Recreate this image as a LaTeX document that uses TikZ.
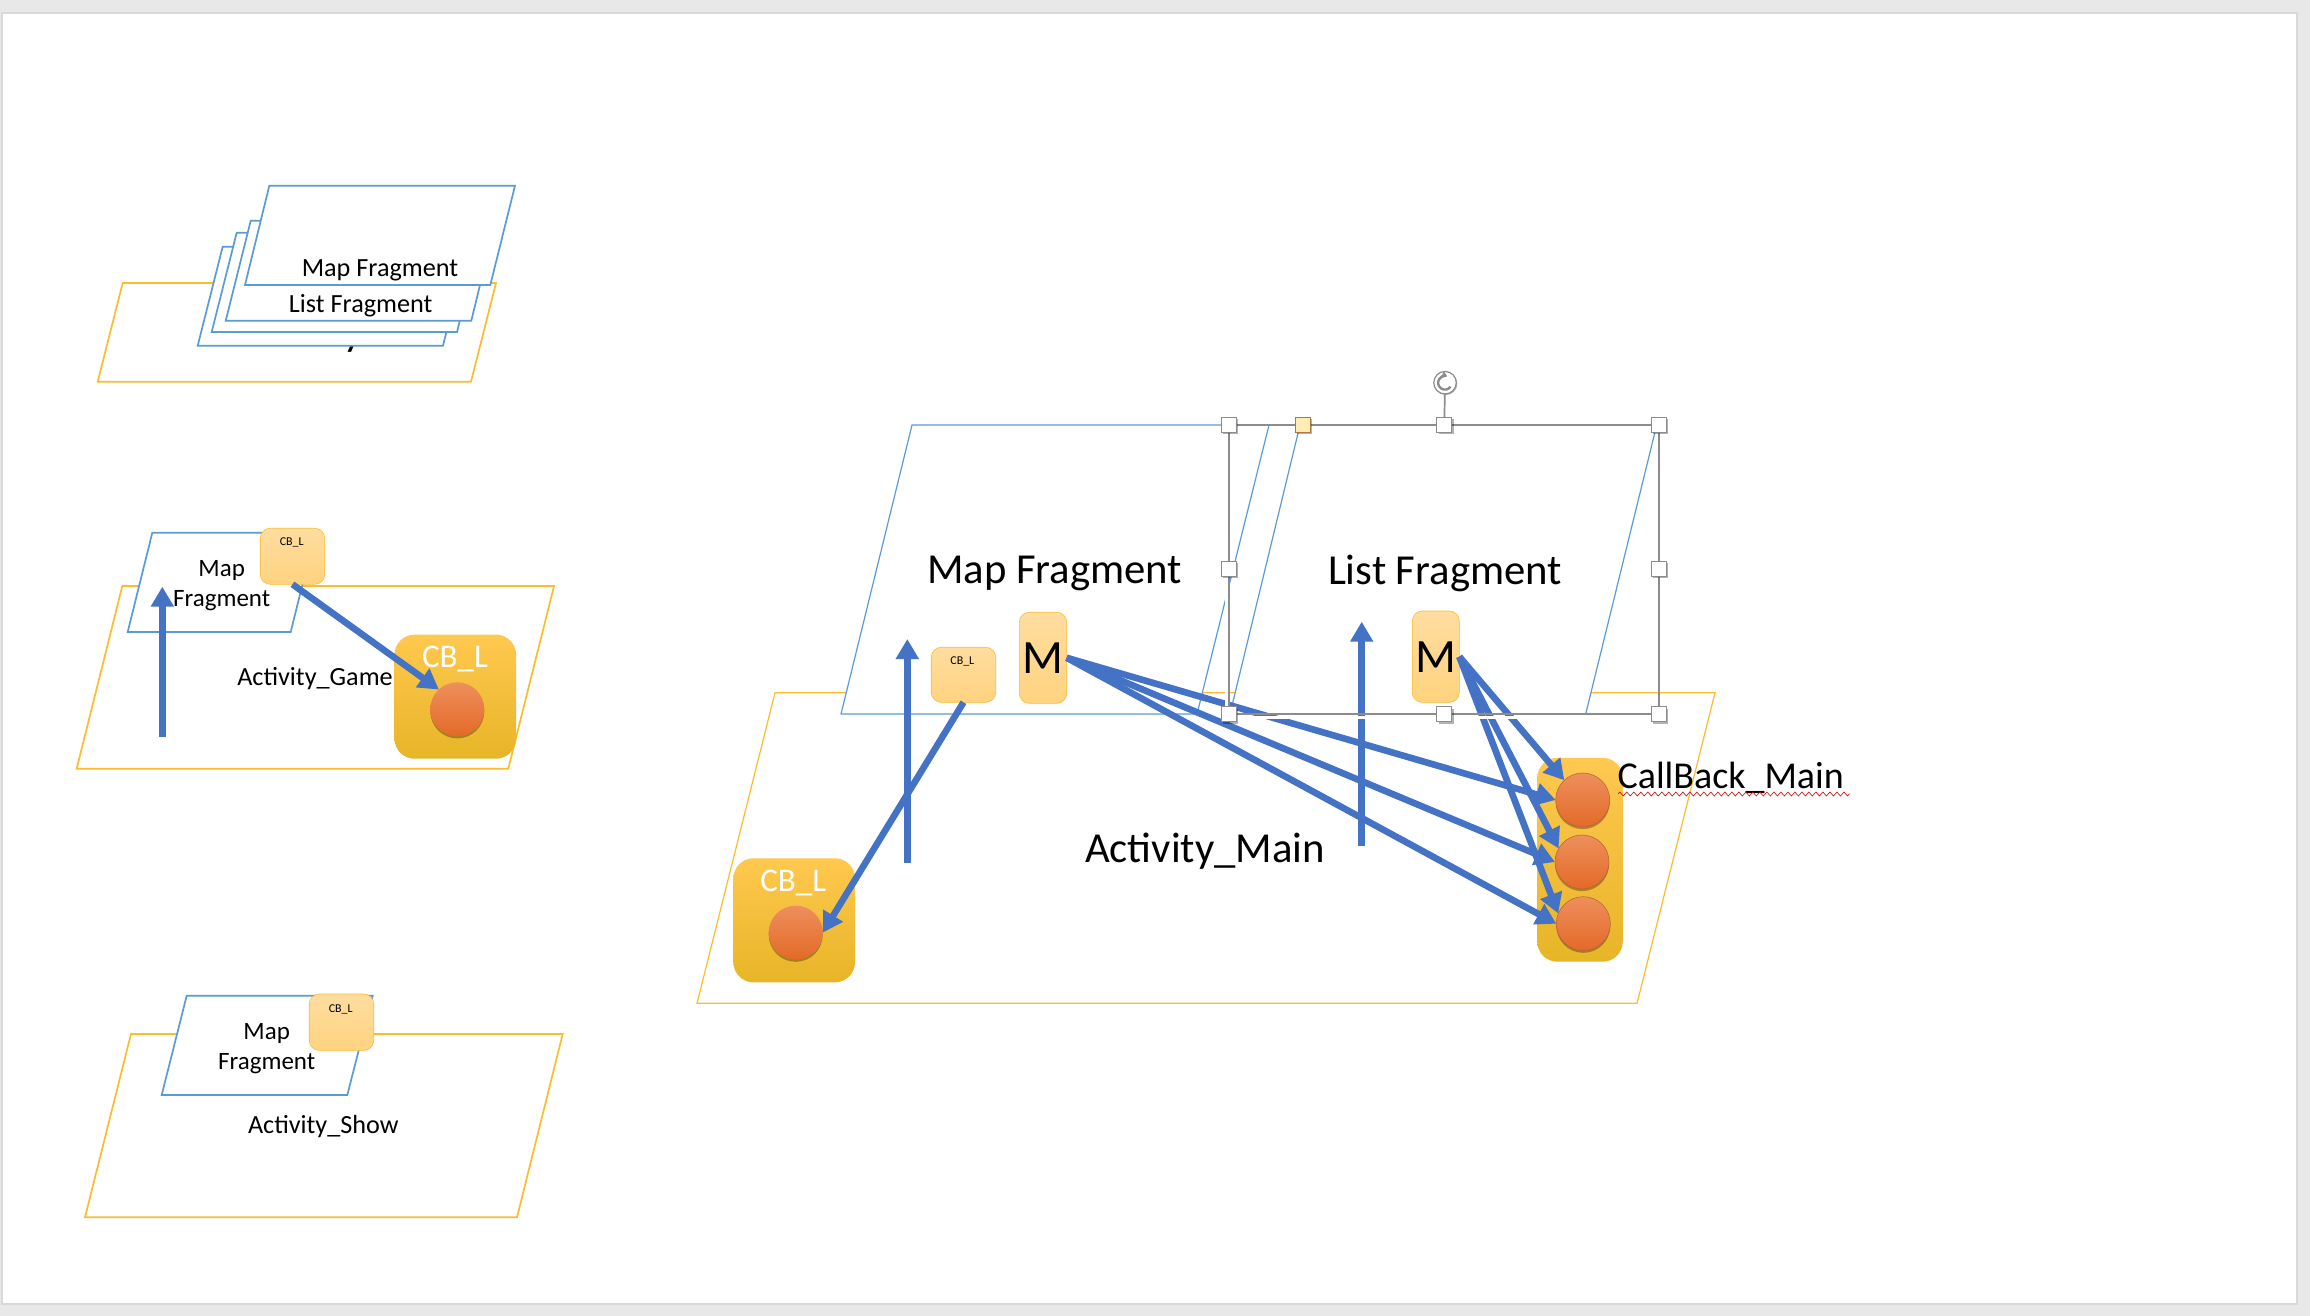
\documentclass[tikz,border=0pt]{standalone}
\usepackage{fontspec}
\setmainfont{Carlito}
\usepackage{tikz}
\usetikzlibrary{arrows.meta, positioning, shadows, decorations.pathmorphing}
\definecolor{oro}{HTML}{FBBC30}
\definecolor{azul}{HTML}{5B9BD5}
\definecolor{flechaazul}{HTML}{4472C4}
\definecolor{marcogris}{HTML}{8C8C8C}
\definecolor{cajaA}{HTML}{FFC84F}
\definecolor{cajaB}{HTML}{FFC42E}
\definecolor{cajaC}{HTML}{E7B527}
\definecolor{peqA}{HTML}{FFDDA0}
\definecolor{peqB}{HTML}{FFD37F}
\definecolor{bolaA}{HTML}{EE8F5C}
\definecolor{bolaB}{HTML}{F47B36}
\definecolor{bolaC}{HTML}{E36A28}
\definecolor{bolaborde}{HTML}{B5603A}
\definecolor{asaforma}{HTML}{FFEDB8}
\definecolor{asaborde}{HTML}{A87A45}
\tikzset{
    plano_activity/.style={draw=oro, line width=0.017cm, line join=miter},
    plano_fragment/.style={draw=azul, fill=white, line width=0.017cm},
    box_cb/.style={rectangle, rounded corners=0.2cm, draw=none, top color=cajaA, middle color=cajaB, bottom color=cajaC, minimum width=1.215cm, minimum height=1.24cm, inner sep=0pt, outer sep=0pt},
    box_peq/.style={rectangle, rounded corners=0.1cm, draw=oro, line width=0.006cm, top color=peqA, bottom color=peqB, inner sep=0pt, outer sep=0pt},
    bola/.style={circle, top color=bolaA, middle color=bolaB, bottom color=bolaC, minimum size=0.54cm, inner sep=0pt, outer sep=0pt, drop shadow={shadow xshift=0pt, shadow yshift=-0.6pt, opacity=0.3, fill=black}},
    flecha/.style={-{Triangle[width=0.22cm, length=0.2cm]}, line width=0.066cm, draw=flechaazul},
    asa/.style={rectangle, draw=marcogris, fill=white, line width=0.008cm, minimum size=0.15cm, inner sep=0pt, outer sep=0pt, drop shadow={shadow xshift=0.5pt, shadow yshift=-0.5pt, opacity=0.3, fill=black}},
    marco/.style={draw=marcogris, line width=0.017cm},
    txt_grande/.style={font=\fontsize{12.15}{15}\selectfont, inner sep=0pt},
    txt_back/.style={font=\fontsize{10.8}{13}\selectfont, inner sep=0pt},
    txt_medio/.style={font=\fontsize{7.45}{8.4}\selectfont, inner sep=0pt, align=center},
    txt_doble/.style={font=\fontsize{7.1}{8.4}\selectfont, inner sep=0pt, align=center},
    txt_mini/.style={font=\fontsize{3.4}{4}\selectfont, inner sep=0pt},
    txt_cb/.style={font=\fontsize{9.4}{11}\selectfont, text=white, inner sep=0pt},
    txt_m/.style={font=\fontsize{13.6}{15}\selectfont, inner sep=0pt}
}
\begin{document}
\begin{tikzpicture}[x=0.01cm, y=-0.01cm]
    \useasboundingbox (0,0) rectangle (2310,1316);
    % Fondo de la diapositiva
    \fill[gray!18] (0,0) rectangle (2310,1316);
    \draw[fill=white, draw=gray!30, line width=0.012cm] (2,13) rectangle (2297,1304);

    % 1. Pila de fragmentos (arriba a la izquierda)
    \draw[plano_activity] (122.7,283) -- (496,283) -- (471,381.7) -- (97.7,381.7) -- cycle;
    \node[txt_grande] (act_pila) at (298,334) {Activity};
    \draw[plano_fragment] (222.7,246.7) -- (467.7,246.7) -- (443,345.7) -- (197.7,345.7) -- cycle;
    \draw[plano_fragment] (236.7,232.7) -- (481.7,232.7) -- (457,332) -- (211.7,332) -- cycle;
    \draw[plano_fragment] (250.7,220.7) -- (495.7,220.7) -- (471.3,320.7) -- (225.7,320.7) -- cycle;
    \node[txt_medio] (list_pila) at (360.7,305.5) {List Fragment};
    \draw[plano_fragment] (269.3,185.7) -- (515,185.7) -- (490.3,285) -- (245,285) -- cycle;
    \node[txt_medio] (map_pila) at (380,270) {Map Fragment};

    % 2. Activity_Game
    \draw[plano_activity] (122.3,586) -- (554,586) -- (508.3,768.7) -- (76.7,768.7) -- cycle;
    \draw[plano_fragment] (152.3,532.7) -- (315.3,532.7) -- (290.7,632) -- (127.7,632) -- cycle;
    \node[txt_doble] (map_game) at (221.7,585.5) {Map\\Fragment};
    \node[box_peq, minimum width=0.644cm, minimum height=0.56cm] (cb_game) at (292.5,556.3) {};
    \node[txt_mini] (cb_game_txt) at (291.7,542) {CB\_L};
    \node[txt_medio] (act_game) at (315,679) {Activity\_Game};
    \node[box_cb] (caja_game) at (455.3,696.7) {};
    \node[txt_cb] (caja_game_txt) at (455,658.5) {CB\_L};
    \node[bola] (bola_game) at (457.3,709.3) {};

    % 3. Activity_Show
    \draw[plano_activity] (131,1034) -- (562.7,1034) -- (517,1217.3) -- (85,1217.3) -- cycle;
    \draw[plano_fragment] (186.7,995.7) -- (372.7,995.7) -- (347.3,1095) -- (161.7,1095) -- cycle;
    \node[txt_doble] (map_show) at (266.7,1048.5) {Map\\Fragment};
    \node[box_peq, minimum width=0.644cm, minimum height=0.563cm] (cb_show) at (341.5,1022.2) {};
    \node[txt_mini] (cb_show_txt) at (340.7,1009.3) {CB\_L};
    \node[txt_medio] (act_show) at (323.3,1127) {Activity\_Show};

    % 4. Activity_Main
    \draw[plano_activity, line width=0.012cm] (775,692.7) -- (1715,692.7) -- (1637,1003.3) -- (697,1003.3) -- cycle;
    \draw[plano_fragment, line width=0.012cm] (912,425) -- (1269,425) -- (1197,714) -- (841,714) -- cycle;
    \draw[plano_fragment, line width=0.012cm] (1300,425) -- (1656.7,425) -- (1585.7,714) -- (1230,714) -- cycle;
    \node[txt_grande] (map_main) at (1054.6,573) {Map Fragment};
    \node[txt_grande] (list_main) at (1445,573) {List Fragment};
    \node[txt_grande] (act_main) at (1205,851.5) {Activity\_Main};

    \node[box_peq, minimum width=0.644cm, minimum height=0.55cm] (cb_main) at (963.5,674.8) {};
    \node[txt_mini] (cb_main_txt) at (962.3,661.3) {CB\_L};
    \node[box_peq, minimum width=0.474cm, minimum height=0.91cm] (m_map) at (1043,657.8) {};
    \node[txt_m] (m_map_txt) at (1042.7,658.3) {M};
    \node[box_peq, minimum width=0.47cm, minimum height=0.913cm] (m_list) at (1435.8,656.7) {};
    \node[txt_m] (m_list_txt) at (1436,656.7) {M};

    \node[box_cb] (caja_main) at (794.2,920.3) {};
    \node[txt_cb] (caja_main_txt) at (793.3,883) {CB\_L};
    \node[bola] (bola_main) at (795.7,932.7) {};

    \node[box_cb, minimum width=0.854cm, minimum height=2.037cm] (caja_back) at (1580,859.8) {};
    \node[bola, draw=bolaborde, line width=0.005cm] (bola_a) at (1582.7,800) {};
    \node[bola, draw=bolaborde, line width=0.005cm] (bola_b) at (1582,862) {};
    \node[bola, draw=bolaborde, line width=0.005cm] (bola_c) at (1583.3,923.7) {};
    \node[txt_back] (back_main) at (1730.7,778) {CallBack\_Main};

    % Subrayado ondulado
    \coordinate (ond_a) at (1618,794);
    \coordinate (ond_b) at (1850,794);
    \draw[red!85!black, line width=0.006cm, decorate, decoration={zigzag, segment length=0.07cm, amplitude=0.02cm}] (ond_a) -- (ond_b);

    % --- CONEXIONES ---

    % Flechas verticales
    \coordinate (sube_game_a) at (162.3,736.7);
    \coordinate (sube_game_b) at (162.3,586.7);
    \draw[flecha] (sube_game_a) -- (sube_game_b);
    \coordinate (sube_map_a) at (907.3,862.7);
    \coordinate (sube_map_b) at (907.3,639);
    \draw[flecha] (sube_map_a) -- (sube_map_b);
    \coordinate (sube_list_a) at (1361.7,845.7);
    \coordinate (sube_list_b) at (1361.7,621.7);
    \draw[flecha] (sube_list_a) -- (sube_list_b);

    % Callbacks hacia las bolas
    \draw[flecha] (cb_game.south) -- (bola_game.133);
    \draw[flecha] (cb_main.south) -- (bola_main.east);
    \draw[flecha] (m_map.east) -- (bola_a.west);
    \draw[flecha] (m_map.east) -- (bola_b.west);
    \draw[flecha] (m_map.east) -- (bola_c.west);
    \draw[flecha] (m_list.east) -- (bola_a.133);
    \draw[flecha] (m_list.east) -- (bola_b.150);
    \draw[flecha] (m_list.east) -- (bola_c.158);

    % --- SELECCION ---
    \draw[white, line width=0.03cm] (1226.5,425) -- (1226.5,717) -- (1659,717);
    \coordinate (c_no) at (1229,425);
    \coordinate (c_ne) at (1659,425);
    \coordinate (c_so) at (1229,714.3);
    \coordinate (c_se) at (1659,714.3);
    \draw[marco] (c_no) -- (c_ne) -- (c_se) -- (c_so) -- cycle;
    \node[asa] (h_no) at (c_no) {};
    \node[asa] (h_n) at (1444.3,425) {};
    \node[asa] (h_ne) at (c_ne) {};
    \node[asa] (h_o) at (1229,569) {};
    \node[asa] (h_e) at (1659,569) {};
    \node[asa] (h_so) at (c_so) {};
    \node[asa] (h_s) at (1444.3,714.3) {};
    \node[asa] (h_se) at (c_se) {};
    \node[asa, fill=asaforma, draw=asaborde] (h_forma) at (1302.7,425) {};

    % Asa de giro
    \node[circle, draw=marcogris, fill=white, line width=0.012cm, minimum size=0.225cm, inner sep=0pt, outer sep=0pt, drop shadow={shadow xshift=0.3pt, shadow yshift=-0.3pt, opacity=0.3, fill=black}] (h_giro) at (1445,382.7) {};
    \draw[marco] (h_giro) -- (h_n);
    \draw[marcogris, line width=0.024cm, -{Triangle[width=0.07cm, length=0.05cm]}] ([xshift=0.055cm, yshift=-0.04cm]h_giro.center) arc[start angle=-35, end angle=-290, radius=0.068cm];
\end{tikzpicture}
\end{document}
